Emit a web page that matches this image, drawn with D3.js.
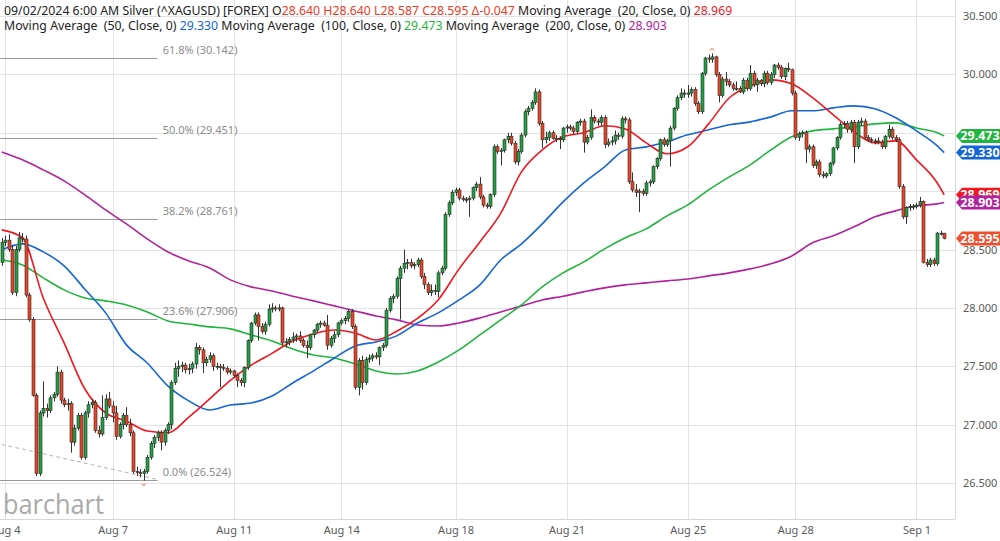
<!DOCTYPE html>
<html><head><meta charset="utf-8">
<script src="https://cdn.jsdelivr.net/npm/d3@7"></script>
<style>
body{margin:0;background:#fff;}
svg{display:block;font-family:"Noto Sans",sans-serif;}
.hdr{white-space:pre;}
</style>
</head><body>
<svg id="chart" width="1000" height="541"></svg>
<script>
// ---------- DATA ----------
const opens = [
28.39,28.56,28.58,28.50,28.13,28.50,28.60,28.59,28.11,27.90,
27.25,26.58,27.10,27.14,27.12,27.23,27.26,27.45,27.21,27.17,
27.18,26.85,26.97,27.08,26.72,27.10,27.17,27.19,26.95,26.92,
27.06,27.22,27.16,27.10,26.90,27.00,27.08,27.00,26.93,26.60,
26.59,26.58,26.60,26.72,26.84,26.89,26.93,26.85,26.95,27.00,
27.36,27.48,27.50,27.51,27.47,27.48,27.52,27.66,27.64,27.53,
27.56,27.59,27.50,27.50,27.49,27.48,27.45,27.46,27.42,27.38,
27.36,27.49,27.72,27.87,27.94,27.84,27.80,27.86,27.99,28.00,
27.99,28.00,27.70,27.71,27.73,27.75,27.76,27.72,27.68,27.66,
27.77,27.81,27.86,27.87,27.85,27.68,27.74,27.77,27.87,27.89,
27.91,27.97,27.84,27.32,27.55,27.36,27.56,27.57,27.59,27.58,
27.66,27.68,27.98,28.08,28.10,28.25,28.34,28.38,28.39,28.36,
28.37,28.41,28.27,28.20,28.13,28.15,28.14,28.30,28.34,28.80,
28.90,28.99,29.01,28.94,28.93,28.93,28.94,29.03,29.06,28.95,
28.88,28.87,28.97,29.38,29.34,29.35,29.44,29.47,29.41,29.25,
29.34,29.48,29.68,29.71,29.76,29.85,29.58,29.44,29.46,29.50,
29.45,29.45,29.44,29.54,29.55,29.54,29.51,29.59,29.60,29.42,
29.46,29.63,29.60,29.59,29.63,29.40,29.42,29.43,29.48,29.47,
29.62,29.61,29.08,29.01,28.99,29.00,28.98,29.07,29.08,29.21,
29.28,29.44,29.40,29.43,29.54,29.71,29.80,29.84,29.83,29.84,
29.87,29.75,29.68,30.01,30.14,30.13,30.15,30.00,29.82,29.96,
29.94,29.91,29.88,29.88,29.85,29.95,29.88,30.01,29.91,29.95,
29.92,30.01,29.93,30.00,30.08,30.06,29.98,30.05,30.04,29.84,
29.46,29.49,29.50,29.36,29.38,29.22,29.25,29.14,29.13,29.15,
29.24,29.37,29.46,29.57,29.58,29.53,29.59,29.38,29.59,29.60,
29.46,29.44,29.43,29.43,29.42,29.38,29.47,29.53,29.46,29.44,
29.04,28.78,28.86,28.87,28.87,28.88,28.91,28.39,28.37,28.41,
28.38,28.64,28.640];
const highs = [
28.60,28.62,28.63,28.54,28.53,28.65,28.64,28.62,28.13,27.92,
27.27,27.12,27.37,27.18,27.25,27.28,27.50,27.47,27.23,27.22,
27.20,27.00,27.10,27.10,27.12,27.20,27.22,27.21,26.99,27.25,
27.26,27.28,27.20,27.16,27.02,27.10,27.15,27.05,26.95,26.64,
26.62,26.62,26.74,26.86,26.91,26.95,26.95,26.97,27.02,27.38,
27.53,27.55,27.54,27.53,27.52,27.54,27.70,27.68,27.66,27.58,
27.62,27.61,27.53,27.52,27.52,27.50,27.48,27.47,27.44,27.40,
27.50,27.73,27.88,27.96,27.96,27.87,27.88,28.03,28.04,28.02,
28.03,28.01,27.74,27.75,27.79,27.78,27.80,27.74,27.72,27.78,
27.82,27.87,27.89,27.89,27.94,27.76,27.80,27.88,27.91,27.93,
27.99,27.99,27.86,27.57,27.59,27.58,27.60,27.61,27.62,27.67,
27.70,28.00,28.10,28.12,28.27,28.36,28.50,28.42,28.42,28.39,
28.43,28.43,28.30,28.22,28.20,28.20,28.32,28.36,28.82,28.92,
29.01,29.03,29.03,28.96,28.95,28.96,29.04,29.08,29.12,28.97,
28.90,28.98,29.40,29.40,29.37,29.45,29.50,29.50,29.43,29.36,
29.50,29.70,29.73,29.78,29.88,29.87,29.60,29.51,29.52,29.52,
29.48,29.47,29.55,29.57,29.57,29.56,29.60,29.62,29.62,29.48,
29.70,29.65,29.62,29.65,29.65,29.45,29.47,29.52,29.50,29.64,
29.64,29.63,29.16,29.06,29.02,29.02,29.09,29.10,29.22,29.29,
29.45,29.46,29.45,29.56,29.72,29.82,29.88,29.87,29.91,29.89,
29.89,29.77,30.02,30.15,30.17,30.18,30.16,30.02,29.98,30.02,
29.96,29.93,29.94,29.90,29.97,29.97,30.08,30.03,29.97,29.96,
30.03,30.03,30.02,30.09,30.10,30.08,30.06,30.10,30.05,29.86,
29.51,29.52,29.52,29.40,29.40,29.27,29.27,29.17,29.16,29.25,
29.38,29.47,29.59,29.60,29.60,29.61,29.61,29.61,29.63,29.62,
29.48,29.46,29.45,29.46,29.44,29.48,29.57,29.55,29.48,29.46,
29.06,28.87,28.89,28.89,28.90,28.95,28.92,28.42,28.43,28.43,
28.65,28.66,28.640];
const lows = [
28.36,28.53,28.48,28.11,28.10,28.48,28.56,28.09,27.88,27.24,
26.56,26.56,27.07,27.06,27.10,27.20,27.24,27.18,27.15,27.12,
26.76,26.82,26.95,26.70,26.70,27.06,27.14,26.93,26.89,26.90,
27.04,27.14,27.02,26.87,26.88,26.96,26.98,26.90,26.58,26.56,
26.55,26.52,26.58,26.70,26.80,26.86,26.78,26.82,26.92,26.96,
27.34,27.41,27.45,27.44,27.43,27.44,27.48,27.60,27.44,27.50,
27.53,27.46,27.47,27.32,27.46,27.43,27.43,27.40,27.32,27.33,
27.32,27.47,27.70,27.85,27.72,27.78,27.77,27.84,27.96,27.97,
27.97,27.68,27.66,27.68,27.70,27.71,27.70,27.66,27.57,27.64,
27.74,27.79,27.83,27.84,27.64,27.66,27.70,27.75,27.85,27.86,
27.88,27.82,27.30,27.25,27.30,27.34,27.53,27.54,27.56,27.51,
27.63,27.66,27.96,28.04,28.08,27.90,28.30,28.33,28.34,28.33,
28.35,28.25,28.16,28.11,28.10,28.11,28.09,28.28,28.32,28.78,
28.88,28.96,28.92,28.91,28.90,28.78,28.92,29.00,28.93,28.86,
28.85,28.85,28.95,29.32,29.22,29.33,29.41,29.39,29.23,29.22,
29.32,29.46,29.65,29.69,29.74,29.56,29.37,29.41,29.43,29.44,
29.42,29.36,29.42,29.50,29.52,29.49,29.49,29.56,29.33,29.40,
29.44,29.58,29.56,29.56,29.37,29.38,29.39,29.40,29.44,29.45,
29.58,29.06,28.99,28.95,28.82,28.96,28.96,29.04,29.06,29.19,
29.26,29.38,29.38,29.21,29.52,29.69,29.78,29.80,29.80,29.81,
29.73,29.66,29.66,29.99,30.10,30.10,29.98,29.76,29.80,29.90,
29.89,29.86,29.86,29.84,29.83,29.86,29.86,29.89,29.85,29.90,
29.89,29.91,29.91,29.97,30.04,29.96,29.95,30.02,29.82,29.44,
29.43,29.46,29.24,29.33,29.20,29.19,29.12,29.11,29.11,29.13,
29.22,29.35,29.44,29.54,29.50,29.50,29.24,29.36,29.56,29.44,
29.42,29.41,29.40,29.40,29.36,29.36,29.45,29.44,29.42,29.02,
28.76,28.72,28.83,28.84,28.85,28.86,28.38,28.35,28.35,28.36,
28.36,28.62,28.587];
const closes = [
28.56,28.58,28.50,28.13,28.50,28.60,28.59,28.11,27.90,27.25,
26.58,27.10,27.14,27.12,27.23,27.26,27.45,27.21,27.17,27.18,
26.85,26.97,27.08,26.72,27.10,27.17,27.19,26.95,26.92,27.06,
27.22,27.16,27.10,26.90,27.00,27.08,27.00,26.93,26.60,26.59,
26.58,26.60,26.72,26.84,26.89,26.93,26.85,26.95,27.00,27.36,
27.48,27.50,27.51,27.47,27.48,27.52,27.66,27.64,27.53,27.56,
27.59,27.50,27.50,27.49,27.48,27.45,27.46,27.42,27.38,27.36,
27.49,27.72,27.87,27.94,27.84,27.80,27.86,27.99,28.00,27.99,
28.00,27.70,27.71,27.73,27.75,27.76,27.72,27.68,27.66,27.77,
27.81,27.86,27.87,27.85,27.68,27.74,27.77,27.87,27.89,27.91,
27.97,27.84,27.32,27.55,27.36,27.56,27.57,27.59,27.58,27.66,
27.68,27.98,28.08,28.10,28.25,28.34,28.38,28.39,28.36,28.37,
28.41,28.27,28.20,28.13,28.15,28.14,28.30,28.34,28.80,28.90,
28.99,29.01,28.94,28.93,28.93,28.94,29.03,29.06,28.95,28.88,
28.87,28.97,29.38,29.34,29.35,29.44,29.47,29.41,29.25,29.34,
29.48,29.68,29.71,29.76,29.85,29.58,29.44,29.46,29.50,29.45,
29.45,29.44,29.54,29.55,29.54,29.51,29.59,29.60,29.42,29.46,
29.63,29.60,29.59,29.63,29.40,29.42,29.43,29.48,29.47,29.62,
29.61,29.08,29.01,28.99,29.00,28.98,29.07,29.08,29.21,29.28,
29.44,29.40,29.43,29.54,29.71,29.80,29.84,29.83,29.84,29.87,
29.75,29.68,30.01,30.14,30.13,30.15,30.00,29.82,29.96,29.94,
29.91,29.88,29.88,29.85,29.95,29.88,30.01,29.91,29.95,29.92,
30.01,29.93,30.00,30.08,30.06,29.98,30.05,30.04,29.84,29.46,
29.49,29.50,29.36,29.38,29.22,29.25,29.14,29.13,29.15,29.24,
29.37,29.46,29.57,29.58,29.53,29.59,29.38,29.59,29.60,29.46,
29.44,29.43,29.43,29.42,29.38,29.47,29.53,29.46,29.44,29.04,
28.78,28.86,28.87,28.87,28.88,28.91,28.39,28.37,28.41,28.38,
28.64,28.64,28.595];

// moving averages sampled at candle indices
const maIdx = [0,6,12,18,24,30,36,42,48,54,60,66,72,78,84,90,96,102,108,114,120,126,132,138,144,150,156,162,168,174,180,186,192,198,204,210,216,222,228,234,240,246,252,258,264,270,272];
const ma20 = [28.668,28.60,28.085,27.70,27.305,27.10,27.03,26.945,26.93,27.065,27.22,27.38,27.51,27.61,27.717,27.777,27.81,27.785,27.725,27.80,27.91,28.07,28.334,28.565,28.81,29.165,29.353,29.465,29.50,29.56,29.533,29.413,29.32,29.38,29.576,29.80,29.90,29.953,29.92,29.80,29.653,29.508,29.413,29.43,29.268,29.07,28.969];
const ma50 = [28.497,28.548,28.48,28.36,28.16,27.957,27.683,27.528,27.33,27.203,27.125,27.168,27.185,27.245,27.357,27.46,27.571,27.674,27.708,27.76,27.871,27.957,28.068,28.197,28.41,28.548,28.72,28.908,29.071,29.208,29.353,29.379,29.422,29.482,29.525,29.568,29.593,29.636,29.688,29.688,29.713,29.73,29.705,29.628,29.516,29.388,29.330];
const ma100 = [28.41,28.368,28.257,28.154,28.085,28.06,28.025,27.965,27.888,27.862,27.837,27.82,27.768,27.717,27.648,27.597,27.571,27.52,27.46,27.434,27.46,27.537,27.64,27.768,27.897,28.025,28.18,28.30,28.394,28.505,28.60,28.677,28.788,28.882,29.01,29.122,29.225,29.353,29.465,29.516,29.533,29.55,29.576,29.585,29.54,29.50,29.473];
const ma200 = [29.336,29.268,29.182,29.088,28.968,28.839,28.719,28.591,28.479,28.402,28.342,28.24,28.18,28.145,28.10,28.06,28.017,27.974,27.931,27.897,27.854,27.845,27.871,27.914,27.965,28.017,28.068,28.10,28.137,28.171,28.197,28.214,28.231,28.248,28.274,28.30,28.334,28.377,28.445,28.557,28.617,28.694,28.78,28.831,28.874,28.891,28.903];

const yTicks = [26.5,27.0,27.5,28.0,28.5,29.0,29.5,30.0,30.5];
const yLabelTicks = [26.5,27.0,27.5,28.0,28.5,30.0,30.5]; // 29.0 and 29.5 sit under the value tags
const dateIdx = [1,32,67,98,131,163,198,229,264];
const dateLabels = ["Aug 4","Aug 7","Aug 11","Aug 14","Aug 18","Aug 21","Aug 25","Aug 28","Sep 1"];

const fibValues = [30.142,29.451,28.761,27.906,26.524];
const fibLabels = ["61.8% (30.142)","50.0% (29.451)","38.2% (28.761)","23.6% (27.906)","0.0% (26.524)"];
const fibEndIdx = 45;
const trendIdx = [0,45];
const trendVal = [26.83,26.53];
const highMarkIdx = 205, lowMarkIdx = 41;

const maNames = ["Moving Average  (20, Close, 0) ","Moving Average  (50, Close, 0) ","Moving Average  (100, Close, 0) ","Moving Average  (200, Close, 0) "];
const maLast = ["28.969","29.330","29.473","28.903"];
const quote = {date:"09/02/2024 6:00 AM", name:"Silver (^XAGUSD) [FOREX]", o:"28.640", h:"28.640", l:"28.587", c:"28.595", d:"-0.047"};

// ---------- STYLE ----------
const C = {grid:"#e3e3e3", up:"#21a041", down:"#ec4325", wick:"#333",
  ma20:"#f2161f", ma50:"#1565d6", ma100:"#1fb53c", ma200:"#b0229c",
  last:"#f04e2c", quote:"#ee3a26", text:"#222", axis:"#5a5a5a", fib:"#8c8c8c"};

const svg = d3.select("#chart");
const PR = 955, PB = 519;
const x = d3.scaleLinear().domain([0,272]).range([1.7,944.2]);
const y = d3.scaleLinear().domain([26.5,30.5]).range([483,16]);

svg.append("defs").append("clipPath").attr("id","plot")
  .append("rect").attr("x",0).attr("y",0).attr("width",PR).attr("height",PB);

// grid
const gy = svg.append("g")
  .call(d3.axisRight(y).tickValues(yTicks).tickSize(PR).tickFormat(""));
gy.select(".domain").remove();
gy.selectAll("line").attr("stroke",C.grid).attr("shape-rendering","crispEdges");
const gx = svg.append("g")
  .call(d3.axisBottom(x).tickValues(dateIdx).tickSize(PB).tickFormat(""));
gx.select(".domain").remove();
gx.selectAll("line").attr("stroke",C.grid).attr("shape-rendering","crispEdges");

// frame
svg.append("line").attr("x1",PR+0.5).attr("x2",PR+0.5).attr("y1",0).attr("y2",PB).attr("stroke","#d6d6d6");
svg.append("line").attr("x1",0).attr("x2",PR).attr("y1",PB+0.5).attr("y2",PB+0.5).attr("stroke","#d6d6d6");

const plot = svg.append("g").attr("clip-path","url(#plot)");

// fib levels
plot.selectAll(".fib").data(fibValues).join("line")
  .attr("x1",0).attr("x2",x(fibEndIdx)).attr("y1",d=>Math.round(y(d))+0.5).attr("y2",d=>Math.round(y(d))+0.5)
  .attr("stroke","#9a9a9a").attr("stroke-width",1);
plot.selectAll(".fibt").data(fibValues).join("text")
  .attr("x",x(fibEndIdx)+5).attr("y",d=>y(d)-4)
  .attr("font-size",11).attr("fill",C.fib).text((d,i)=>fibLabels[i]);

// trend line
plot.append("line").attr("x1",x(trendIdx[0])).attr("y1",y(trendVal[0]))
  .attr("x2",x(trendIdx[1])).attr("y2",y(trendVal[1]))
  .attr("stroke","#b5b5b5").attr("stroke-dasharray","4,3");

// moving averages
const line = d3.line().x(d=>x(d[0])).y(d=>y(d[1])).curve(d3.curveMonotoneX);
[[ma200,C.ma200],[ma100,C.ma100],[ma50,C.ma50],[ma20,C.ma20]].forEach(([arr,col])=>{
  plot.append("path").datum(maIdx.map((k,i)=>[k,arr[i]]))
    .attr("d",line).attr("fill","none").attr("stroke",col).attr("stroke-width",1.6);
});

// candles
const candles = closes.map((c,i)=>({i,o:opens[i],h:highs[i],l:lows[i],c}));
const cg = plot.append("g");
cg.selectAll(".wick").data(candles).join("line")
  .attr("x1",d=>Math.round(x(d.i))+0.5).attr("x2",d=>Math.round(x(d.i))+0.5)
  .attr("y1",d=>y(d.h)).attr("y2",d=>y(d.l)).attr("stroke",C.wick).attr("stroke-width",1);
cg.selectAll(".body").data(candles).join("rect")
  .attr("x",d=>Math.round(x(d.i))-1)
  .attr("width",3)
  .attr("y",d=>Math.min(y(d.o),y(d.c)))
  .attr("height",d=>Math.max(1,Math.abs(y(d.o)-y(d.c))))
  .attr("fill",d=>d.c>=d.o?C.up:C.down)
  .attr("stroke","#2b2b2b").attr("stroke-width",0.6);

// high / low markers
const mk = plot.append("g").attr("fill","none").attr("stroke",C.last).attr("stroke-width",1);
mk.append("path").attr("d",`M${x(highMarkIdx)-2},${y(highs[highMarkIdx])-3}l2,-2l2,2`);
mk.append("path").attr("d",`M${x(lowMarkIdx)-2},${y(lows[lowMarkIdx])+3}l2,2l2,-2`);

// y axis labels
const ya = svg.append("g").attr("transform",`translate(${PR+6},0)`)
  .call(d3.axisRight(y).tickValues(yLabelTicks).tickSize(0).tickPadding(2).tickFormat(d3.format(".3f")));
ya.select(".domain").remove();
ya.selectAll("text").attr("font-size",11).attr("fill",C.axis).attr("font-family","'Noto Sans',sans-serif");

// x axis labels
const xa = svg.append("g").attr("transform",`translate(0,${PB})`)
  .call(d3.axisBottom(x).tickValues(dateIdx).tickSize(0).tickPadding(7).tickFormat((d,i)=>dateLabels[i]));
xa.select(".domain").remove();
xa.selectAll("text").attr("font-size",11).attr("fill",C.axis).attr("font-family","'Noto Sans',sans-serif");

// last value tags
const tags = [
  {v:+maLast[0], col:C.ma20},
  {v:+maLast[3], col:C.ma200},
  {v:+maLast[2], col:C.ma100},
  {v:+maLast[1], col:C.ma50},
  {v:closes[closes.length-1], col:C.last}
];
const tg = svg.append("g");
tags.forEach(t=>{
  const yc = y(t.v), h = 7;
  tg.append("path").attr("d",`M${PR+1},${yc} L${PR+7},${yc-h} L1000,${yc-h} L1000,${yc+h} L${PR+7},${yc+h} Z`).attr("fill",t.col);
  tg.append("text").attr("x",980).attr("y",yc+4.3).attr("text-anchor","middle")
    .attr("font-size",12.5).attr("font-weight","bold").attr("fill","#fff").text(t.v.toFixed(3));
});

// watermark
svg.append("text").attr("x",3).attr("y",514).attr("font-family","'Open Sans',sans-serif")
  .attr("font-size",27).attr("fill","#a9a9a9").attr("textLength",101).attr("lengthAdjust","spacingAndGlyphs").text("barchart");

// header
const hd = svg.append("g").attr("font-size",12.3).attr("class","hdr");
const l1 = hd.append("text").attr("x",4).attr("y",15).attr("xml:space","preserve");
l1.append("tspan").attr("fill",C.text).text(`${quote.date} ${quote.name} O`);
l1.append("tspan").attr("fill",C.quote).text(`${quote.o} H${quote.h} L${quote.l} C${quote.c} \u0394${quote.d}`);
l1.append("tspan").attr("fill",C.text).text(" "+maNames[0]);
l1.append("tspan").attr("fill",C.ma20).text(maLast[0]);
const l2 = hd.append("text").attr("x",4).attr("y",30).attr("xml:space","preserve");
l2.append("tspan").attr("fill",C.text).text(maNames[1]);
l2.append("tspan").attr("fill",C.ma50).text(maLast[1]);
l2.append("tspan").attr("fill",C.text).text(" "+maNames[2]);
l2.append("tspan").attr("fill",C.ma100).text(maLast[2]);
l2.append("tspan").attr("fill",C.text).text(" "+maNames[3]);
l2.append("tspan").attr("fill",C.ma200).text(maLast[3]);
</script>
</body></html>
